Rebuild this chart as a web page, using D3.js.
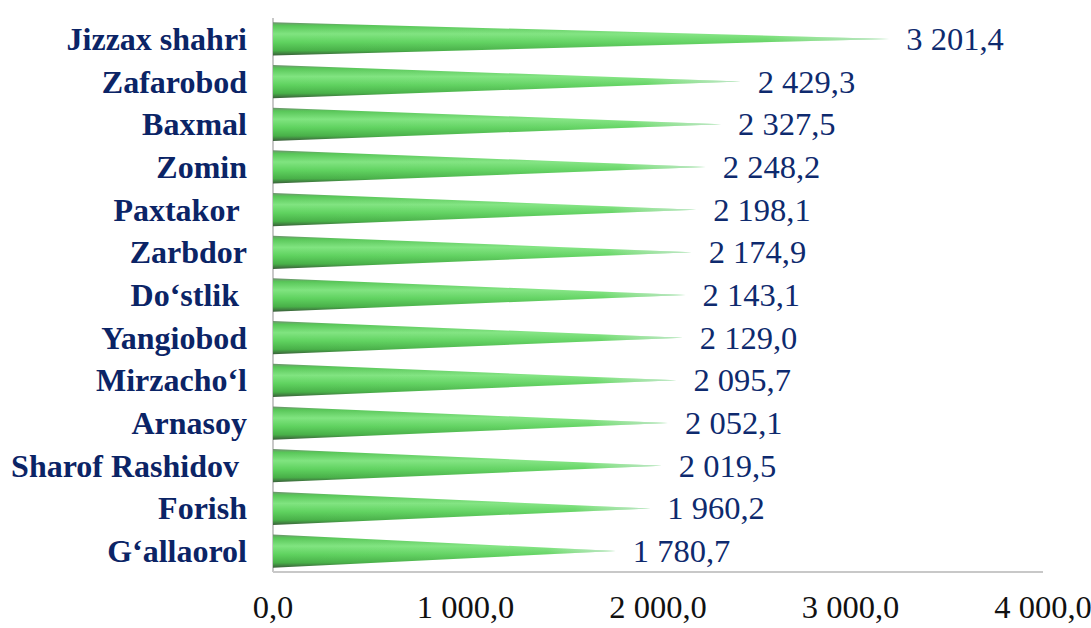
<!DOCTYPE html>
<html>
<head>
<meta charset="utf-8">
<script src="https://cdn.jsdelivr.net/npm/d3@7"></script>
<style>
  body { margin:0; background:#fff; }
  svg text { font-family: "Liberation Serif", "Times New Roman", serif; white-space: pre; }
</style>
</head>
<body>
<div id="chart"></div>
<script>
const categories = ["Jizzax shahri","Zafarobod","Baxmal","Zomin","Paxtakor ","Zarbdor","Do‘stlik ","Yangiobod","Mirzacho‘l","Arnasoy","Sharof Rashidov ","Forish","G‘allaorol"];
const values = [3201.4, 2429.3, 2327.5, 2248.2, 2198.1, 2174.9, 2143.1, 2129.0, 2095.7, 2052.1, 2019.5, 1960.2, 1780.7];
const xTicks = [0, 1000, 2000, 3000, 4000];

const width = 1091, height = 628;
const margin = { top:18, right:48, bottom:56, left:273 };
const fmt = v => { const s = d3.format(",.1f")(v); return s.replace(/,/g,' ').replace('.',','); };

const svg = d3.select('#chart').append('svg').attr('width', width).attr('height', height);
const x = d3.scaleLinear().domain([0, 4000]).range([margin.left, width - margin.right]);
const y = d3.scaleBand().domain(categories).range([margin.top, height - margin.bottom]).paddingInner(0.22).paddingOuter(0.1);

const defs = svg.append('defs');
const g1 = defs.append('linearGradient').attr('id','cone').attr('x1',0).attr('y1',0).attr('x2',0).attr('y2',1);
[[0,'#6f8f6f'],[0.1,'#58c658'],[0.35,'#80e480'],[0.6,'#5fd25f'],[0.85,'#48b048'],[1,'#3a5e3a']].forEach(([o,c]) => g1.append('stop').attr('offset',o).attr('stop-color',c));
const g2 = defs.append('linearGradient').attr('id','fade').attr('x1',0).attr('y1',0).attr('x2',1).attr('y2',0);
g2.append('stop').attr('offset',0).attr('stop-color','#fff').attr('stop-opacity',0);
g2.append('stop').attr('offset',0.8).attr('stop-color','#fff').attr('stop-opacity',0.05);
g2.append('stop').attr('offset',1).attr('stop-color','#dfe8ee').attr('stop-opacity',0.7);

// axes lines
svg.append('line').attr('x1', x(0)).attr('x2', x(0)).attr('y1', margin.top).attr('y2', height - margin.bottom)
  .attr('stroke','#c8c8c8').attr('stroke-width',2);
svg.append('line').attr('x1', x(0)).attr('x2', x(4000)).attr('y1', height - margin.bottom).attr('y2', height - margin.bottom)
  .attr('stroke','#c8c8c8').attr('stroke-width',2);

const cone = d => {
  const t = y(d.c), b = t + y.bandwidth(), m = t + y.bandwidth()/2;
  return `M${x(0)},${t}L${x(d.v)},${m}L${x(0)},${b}Z`;
};
const data = categories.map((c,i) => ({ c, v: values[i] }));
const bars = svg.append('g');
bars.selectAll('path.cone').data(data).enter().append('path').attr('class','cone').attr('d', cone).attr('fill','url(#cone)');
bars.selectAll('path.fade').data(data).enter().append('path').attr('class','fade').attr('d', cone).attr('fill','url(#fade)');

// value labels
svg.append('g').selectAll('text').data(data).enter().append('text')
  .attr('x', d => x(d.v) + 17).attr('y', d => y(d.c) + y.bandwidth()/2 + 11)
  .style('font-size','32.5px').style('fill','#0e2a6e').text(d => fmt(d.v));

// category labels
svg.append('g').selectAll('text').data(data).enter().append('text')
  .attr('x', 247).attr('y', d => y(d.c) + y.bandwidth()/2 + 11).attr('text-anchor','end')
  .style('font-size','32px').style('font-weight','bold').style('fill','#0b2466').text(d => d.c);

// x tick labels
svg.append('g').selectAll('text').data(xTicks).enter().append('text')
  .attr('x', d => x(d)).attr('y', 618).attr('text-anchor','middle')
  .style('font-size','32.5px').style('fill','#111').text(d => fmt(d));
</script>
</body>
</html>
